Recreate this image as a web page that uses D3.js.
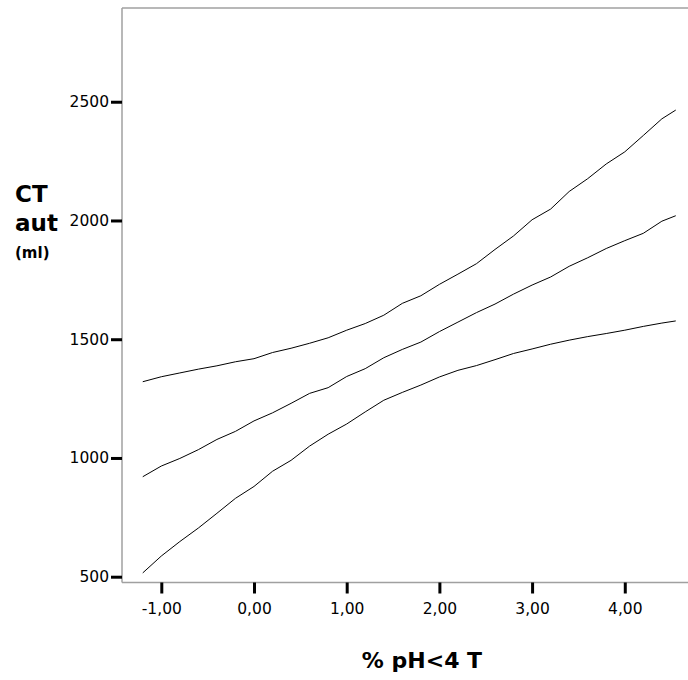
<!DOCTYPE html>
<html>
<head>
<meta charset="utf-8">
<script src="https://cdn.jsdelivr.net/npm/d3@7"></script>
<style>
  html, body { margin: 0; padding: 0; background: #fff; }
  svg { display: block; }
</style>
</head>
<body>
<svg id="chart" width="688" height="680"></svg>
<script>
// ---- data ----
const xValues = [-1.2, -1.0, -0.8, -0.6, -0.4, -0.2, 0.0, 0.2, 0.4, 0.6, 0.8, 1.0, 1.2, 1.4, 1.6,
                 1.8, 2.0, 2.2, 2.4, 2.6, 2.8, 3.0, 3.2, 3.4, 3.6, 3.8, 4.0, 4.2, 4.4, 4.55];
const upperValues = [1321, 1342, 1358, 1374, 1388, 1405, 1418, 1444, 1462, 1483, 1506, 1538, 1566, 1601, 1651,
                     1683, 1731, 1774, 1818, 1878, 1935, 2003, 2048, 2122, 2176, 2238, 2289, 2358, 2428, 2465];
const middleValues = [921, 966, 998, 1035, 1078, 1112, 1156, 1190, 1230, 1272, 1296, 1343, 1376, 1422, 1457,
                      1488, 1532, 1572, 1612, 1648, 1690, 1728, 1762, 1807, 1843, 1882, 1915, 1946, 1997, 2020];
const lowerValues = [516, 587, 648, 705, 767, 830, 880, 944, 990, 1050, 1100, 1143, 1194, 1243, 1276,
                     1307, 1341, 1369, 1389, 1414, 1440, 1459, 1479, 1496, 1511, 1524, 1538, 1554, 1568, 1577];
const xTicks = [-1, 0, 1, 2, 3, 4];
const xTickLabels = ["-1,00", "0,00", "1,00", "2,00", "3,00", "4,00"];
const yTicks = [500, 1000, 1500, 2000, 2500];
const yTickLabels = ["500", "1000", "1500", "2000", "2500"];
const xDomain = [-1.424, 4.682];
const yDomain = [475.6, 2894.7];
const xTitle = "% pH<4 T";
const yTitleLines = ["CT", "aut", "(ml)"];

// ---- layout ----
const plot = { left: 122, right: 688, top: 8, bottom: 582.5 };
const svg = d3.select("#chart");

const x = d3.scaleLinear().domain(xDomain).range([plot.left, plot.right]);
const y = d3.scaleLinear().domain(yDomain).range([plot.bottom, plot.top]);

// frame (left, top, bottom)
const frame = svg.append("g").attr("stroke", "#a0a0a0").attr("stroke-width", 1.5).attr("fill", "none");
frame.append("line").attr("x1", x(xDomain[0])).attr("x2", x(xDomain[0])).attr("y1", y(yDomain[0])).attr("y2", y(yDomain[1]));
frame.append("line").attr("x1", x(xDomain[0])).attr("x2", x(xDomain[1])).attr("y1", y(yDomain[1])).attr("y2", y(yDomain[1]));
frame.append("line").attr("x1", x(xDomain[0])).attr("x2", x(xDomain[1])).attr("y1", y(yDomain[0])).attr("y2", y(yDomain[0]));

// axes
const font = "'DejaVu Sans', sans-serif";
const xAxis = d3.axisBottom(x).tickValues(xTicks)
  .tickFormat((d, i) => xTickLabels[i]).tickSizeInner(11).tickSizeOuter(0).tickPadding(9);
const gx = svg.append("g").attr("transform", `translate(0,${plot.bottom})`).call(xAxis);
gx.select(".domain").remove();
gx.selectAll(".tick line").attr("stroke", "#000").attr("stroke-width", 3);
gx.selectAll(".tick text").attr("font-family", font).attr("font-size", 15.5).attr("fill", "#000");

const yAxis = d3.axisLeft(y).tickValues(yTicks)
  .tickFormat((d, i) => yTickLabels[i]).tickSizeInner(11).tickSizeOuter(0).tickPadding(2);
const gy = svg.append("g").attr("transform", `translate(${plot.left},0)`).call(yAxis);
gy.select(".domain").remove();
gy.selectAll(".tick line").attr("stroke", "#000").attr("stroke-width", 3);
gy.selectAll(".tick text").attr("font-family", font).attr("font-size", 15.5).attr("fill", "#000");

// lines
const series = [upperValues, middleValues, lowerValues];
const line = d3.line().x((d, i) => x(xValues[i])).y(d => y(d));
svg.append("g").selectAll("path").data(series).join("path")
  .attr("d", line).attr("fill", "none").attr("stroke", "#000").attr("stroke-width", 1)
  .attr("stroke-linejoin", "round");

// titles
svg.append("text").attr("x", 422).attr("y", 668).attr("text-anchor", "middle")
  .attr("font-family", font).attr("font-weight", "bold").attr("font-size", 22).attr("fill", "#000")
  .text(xTitle);

const yt = svg.append("text").attr("font-family", font).attr("font-weight", "bold").attr("fill", "#000");
yt.append("tspan").attr("x", 15).attr("y", 202).attr("font-size", 23).text(yTitleLines[0]);
yt.append("tspan").attr("x", 15).attr("y", 231).attr("font-size", 23).text(yTitleLines[1]);
yt.append("tspan").attr("x", 15).attr("y", 258).attr("font-size", 15).text(yTitleLines[2]);
</script>
</body>
</html>
